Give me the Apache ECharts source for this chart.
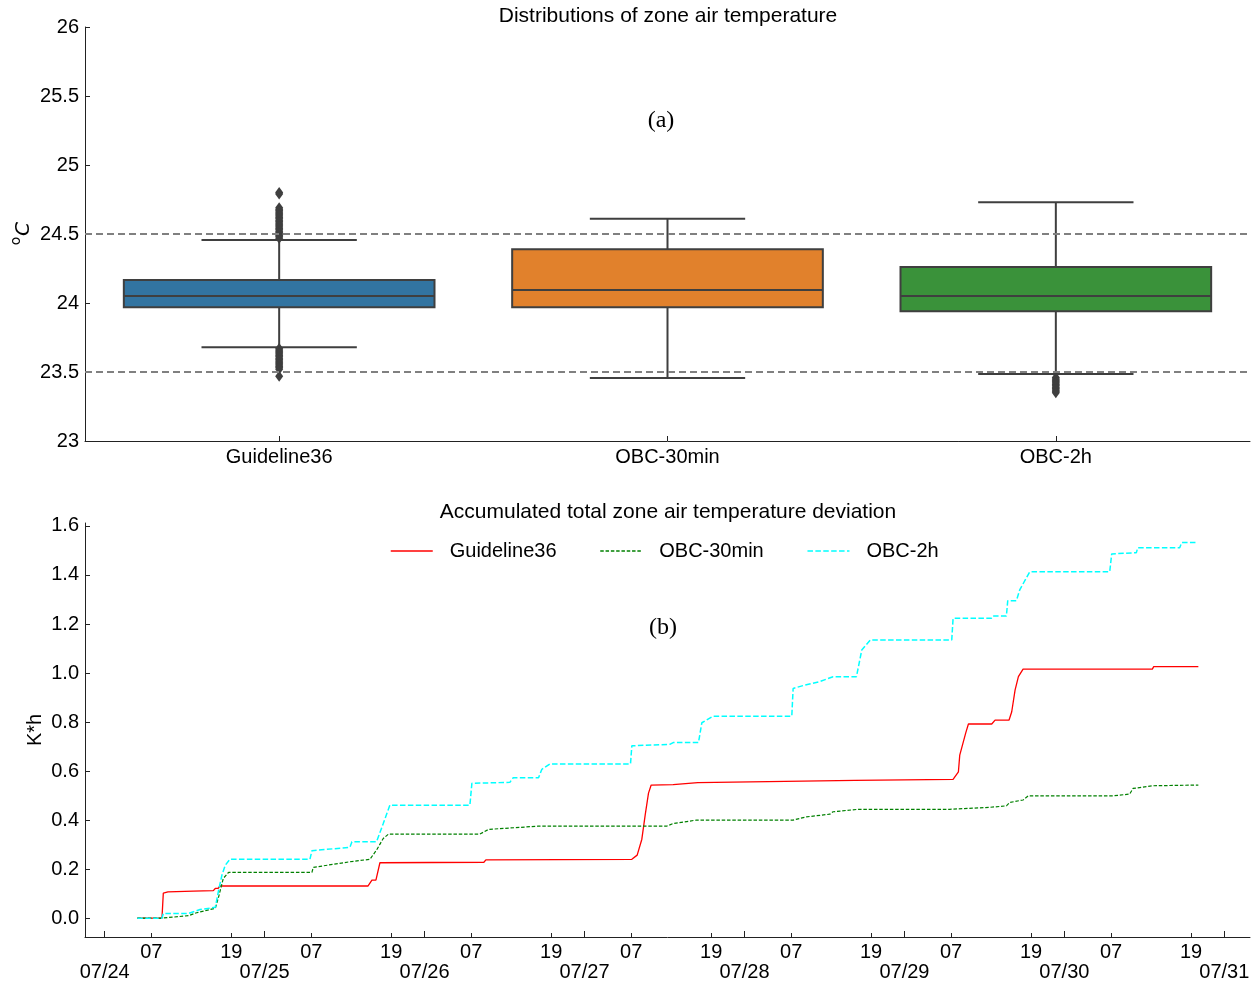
<!DOCTYPE html>
<html><head><meta charset="utf-8">
<script src="https://cdn.jsdelivr.net/npm/echarts@6/dist/echarts.min.js"></script>
<style>html,body{margin:0;padding:0;background:#fff}#c{width:1258px;height:984px}</style>
</head><body><div id="c"></div>
<script>
// ---------- (a) box plot data ----------
const boxCategories = ['Guideline36', 'OBC-30min', 'OBC-2h'];
// [lower whisker, Q1, median, Q3, upper whisker]
const boxG36 = [23.68, 23.97, 24.05, 24.167, 24.457];
const boxOBC30 = [23.456, 23.97, 24.094, 24.39, 24.61];
const boxOBC2h = [23.486, 23.94, 24.05, 24.26, 24.73];
const boxColors = ['#3274a1', '#e1812c', '#3a923a'];
const outliersG36 = [24.80, 24.79, 24.69, 24.68, 24.67, 24.66, 24.65, 24.64, 24.63, 24.62, 24.61, 24.60,
  24.59, 24.58, 24.57, 24.56, 24.55, 24.54, 24.53, 24.52, 24.51, 24.50, 24.49, 24.48, 24.47,
  23.67, 23.66, 23.65, 23.64, 23.63, 23.62, 23.61, 23.60, 23.59, 23.58, 23.57, 23.56, 23.55,
  23.54, 23.53, 23.52, 23.47];
const outliersOBC2h = [23.46, 23.45, 23.44, 23.43, 23.42, 23.41, 23.40, 23.39, 23.38, 23.37, 23.36, 23.35];
const comfortBounds = [24.5, 23.5];

// ---------- (b) accumulated deviation (x: hours since 07/24 00:00) ----------
const seriesNames = ['Guideline36', 'OBC-30min', 'OBC-2h'];
const g36Curve = [[4.9,0],[8.6,0],[8.8,0.102],[9.5,0.107],[13.3,0.11],[16.3,0.112],[16.6,0.121],[17.0,0.121],
  [17.3,0.131],[39.5,0.131],[40.1,0.155],[40.7,0.155],[41.3,0.226],[56.9,0.228],[57.2,0.238],[79.1,0.24],
  [79.9,0.257],[80.6,0.322],[81.1,0.42],[81.6,0.51],[82.0,0.543],[85.3,0.545],[85.4,0.552],[89.0,0.553],
  [89.2,0.56],[112.6,0.562],[112.7,0.566],[127.3,0.566],[128.1,0.597],[128.3,0.665],[129.2,0.756],
  [129.6,0.792],[133.1,0.792],[133.6,0.808],[135.7,0.808],[136.1,0.842],[136.6,0.93],[137.1,0.985],
  [137.8,1.016],[157.2,1.016],[157.4,1.026],[164.1,1.026]];
const obc30Curve = [[4.9,0],[8.6,0],[12.6,0.01],[13.8,0.022],[16.6,0.04],[17.1,0.087],[17.8,0.162],[18.6,0.187],
  [31.1,0.187],[31.3,0.207],[36.8,0.23],[39.8,0.24],[40.8,0.278],[41.8,0.325],[42.6,0.343],[56.3,0.343],
  [57.6,0.362],[65.0,0.375],[84.3,0.375],[85.3,0.386],[88.8,0.40],[103.3,0.40],[105.3,0.413],[108.8,0.424],
  [109.3,0.434],[113.1,0.444],[126.8,0.444],[132.8,0.452],[135.3,0.458],[135.8,0.472],[137.8,0.482],
  [138.6,0.499],[151.3,0.499],[153.8,0.506],[154.3,0.529],[157.3,0.54],[164.1,0.543]];
const obc2hCurve = [[4.9,0],[8.6,0],[8.8,0.019],[12.6,0.019],[12.8,0.026],[14.3,0.035],[16.6,0.044],[17.1,0.114],
  [17.6,0.176],[18.1,0.216],[18.8,0.24],[30.8,0.24],[31.1,0.275],[36.8,0.289],[37.1,0.312],[40.8,0.312],
  [41.8,0.386],[42.8,0.461],[54.8,0.461],[55.1,0.55],[60.8,0.554],[61.3,0.573],[65.1,0.573],[65.6,0.607],
  [66.8,0.629],[78.9,0.629],[79.1,0.703],[84.8,0.709],[85.3,0.716],[89.1,0.716],[89.6,0.797],[91.3,0.824],
  [103.1,0.824],[103.3,0.937],[105.1,0.951],[107.3,0.965],[109.3,0.985],[112.8,0.985],[113.6,1.094],
  [114.9,1.135],[127.1,1.135],[127.3,1.223],[133.1,1.223],[133.4,1.233],[135.3,1.233],[135.5,1.295],
  [136.8,1.295],[137.3,1.339],[138.8,1.413],[150.8,1.413],[151.1,1.486],[154.8,1.491],[155.0,1.511],
  [161.3,1.511],[161.6,1.532],[164.0,1.532]];
const lineColors = ['#ff0000', '#008000', '#00ffff'];
const dayLabels = ['07/24', '07/25', '07/26', '07/27', '07/28', '07/29', '07/30', '07/31'];
const hourLabels = ['07', '19'];
const hourOfLabel = [7, 19];
const devTicks = [0, 0.2, 0.4, 0.6, 0.8, 1.0, 1.2, 1.4, 1.6];

// ---------- build ----------
const FONT = '"Liberation Sans", Arial, sans-serif';
const dayTickHours = dayLabels.map((d, i) => i * 24);
const hourTickHours = [];
const hourTickText = {};
for (let d = 0; d < dayLabels.length - 1; d++) {
  hourOfLabel.forEach((h, k) => { hourTickHours.push(d * 24 + h); hourTickText[d * 24 + h] = hourLabels[k]; });
}
const boxData = [boxG36, boxOBC30, boxOBC2h].map((b, i) => [i].concat(b));
const outlierData = outliersG36.map(v => [0, v]).concat(outliersOBC2h.map(v => [2, v]));

const chart = echarts.init(document.getElementById('c'), null, { renderer: 'canvas' });
const axisLineStyle = { color: '#222', width: 1 };
const labelStyle = { color: '#000', fontSize: 20, fontFamily: FONT };
const X_MIN = -2.95, X_MAX = 171.85;

chart.setOption({
  animation: false,
  backgroundColor: '#fff',
  textStyle: { fontFamily: FONT },
  grid: [
    { left: 85, right: 8, top: 27, height: 414, outerBoundsMode: 'none', containLabel: false },
    { left: 85, right: 8, top: 523, height: 414, outerBoundsMode: 'none', containLabel: false }
  ],
  xAxis: [
    { type: 'category', gridIndex: 0, data: boxCategories, boundaryGap: true, position: 'bottom',
      axisLine: { show: true, onZero: false, lineStyle: axisLineStyle },
      axisTick: { show: true, alignWithLabel: true, inside: true, length: 5, lineStyle: axisLineStyle },
      axisLabel: Object.assign({ margin: 6 }, labelStyle), splitLine: { show: false } },
    // day axis (major ticks + date labels on second row)
    { type: 'value', gridIndex: 1, min: X_MIN, max: X_MAX, position: 'bottom', offset: 0,
      axisLine: { show: true, onZero: false, lineStyle: axisLineStyle },
      axisTick: { show: true, inside: true, length: 6, customValues: dayTickHours, lineStyle: axisLineStyle },
      axisLabel: Object.assign({ margin: 25, customValues: dayTickHours, verticalAlign: 'top',
        showMinLabel: true, showMaxLabel: true, hideOverlap: false,
        formatter: v => dayLabels[Math.round(v / 24)] }, labelStyle),
      splitLine: { show: false } },
    // hour axis (minor ticks + 07/19 labels)
    { type: 'value', gridIndex: 1, min: X_MIN, max: X_MAX, position: 'bottom', offset: 0,
      axisLine: { show: false, onZero: false },
      axisTick: { show: true, inside: true, length: 4, customValues: hourTickHours, lineStyle: axisLineStyle },
      axisLabel: Object.assign({ margin: 5, customValues: hourTickHours, verticalAlign: 'top',
        showMinLabel: true, showMaxLabel: true, hideOverlap: false,
        formatter: v => hourTickText[Math.round(v)] }, labelStyle),
      splitLine: { show: false } }
  ],
  yAxis: [
    { type: 'value', gridIndex: 0, min: 23, max: 26, interval: 0.5, position: 'left',
      axisLine: { show: true, onZero: false, lineStyle: axisLineStyle },
      axisTick: { show: true, inside: true, length: 5, lineStyle: axisLineStyle },
      axisLabel: Object.assign({ margin: 6 }, labelStyle), splitLine: { show: false } },
    { type: 'value', gridIndex: 1, min: -0.077, max: 1.612, position: 'left',
      axisLine: { show: true, onZero: false, lineStyle: axisLineStyle },
      axisTick: { show: true, inside: true, length: 5, customValues: devTicks, lineStyle: axisLineStyle },
      axisLabel: Object.assign({ margin: 6, customValues: devTicks, formatter: v => v.toFixed(1) }, labelStyle),
      splitLine: { show: false } }
  ],
  legend: {
    data: seriesNames, left: 390, top: 541, padding: 0, itemWidth: 42, itemHeight: 16, itemGap: 43,
    textStyle: { fontSize: 20, color: '#000', fontFamily: FONT, padding: [0, 0, 0, 12] },
    itemStyle: { color: 'rgba(0,0,0,0)', borderWidth: 0, opacity: 0 },
    lineStyle: { width: 1.5 }
  },
  graphic: [
    { type: 'text', x: 668, y: 16, style: { text: 'Distributions of zone air temperature', fontSize: 21, fontFamily: FONT, fill: '#000', align: 'center', verticalAlign: 'middle' } },
    { type: 'text', x: 661, y: 121, style: { text: '(a)', fontSize: 24, fontFamily: '"Liberation Serif", "Times New Roman", serif', fill: '#000', align: 'center', verticalAlign: 'middle' } },
    { type: 'text', x: 668, y: 512, style: { text: 'Accumulated total zone air temperature deviation', fontSize: 21, fontFamily: FONT, fill: '#000', align: 'center', verticalAlign: 'middle' } },
    { type: 'text', x: 663, y: 628, style: { text: '(b)', fontSize: 24, fontFamily: '"Liberation Serif", "Times New Roman", serif', fill: '#000', align: 'center', verticalAlign: 'middle' } },
    { type: 'text', x: 24, y: 229, rotation: Math.PI / 2, style: { text: 'C', fontSize: 20, fontStyle: 'italic', fontFamily: '"DejaVu Sans", sans-serif', fill: '#000', align: 'center', verticalAlign: 'middle' } },
    { type: 'text', x: 16, y: 241, rotation: Math.PI / 2, style: { text: 'o', fontSize: 14, fontFamily: '"DejaVu Sans", sans-serif', fill: '#000', align: 'center', verticalAlign: 'middle' } },
    { type: 'text', x: 35, y: 730, rotation: Math.PI / 2, style: { text: 'K*h', fontSize: 20, fontFamily: FONT, fill: '#000', align: 'center', verticalAlign: 'middle' } }
  ],
  series: [
    {
      type: 'custom', xAxisIndex: 0, yAxisIndex: 0, z: 2,
      data: boxData,
      encode: { x: 0, y: [1, 2, 3, 4, 5] },
      renderItem: (params, api) => {
        const i = api.value(0);
        const lw = api.coord([i, api.value(1)]);
        const q1 = api.coord([i, api.value(2)]);
        const md = api.coord([i, api.value(3)]);
        const q3 = api.coord([i, api.value(4)]);
        const uw = api.coord([i, api.value(5)]);
        const cx = md[0];
        const band = api.size([1, 0])[0];
        const bw = band * 0.8, cw = bw / 2;
        const edge = { stroke: '#3f3f3f', lineWidth: 2 };
        return { type: 'group', children: [
          { type: 'line', shape: { x1: cx, y1: lw[1], x2: cx, y2: q1[1] }, style: edge },
          { type: 'line', shape: { x1: cx, y1: q3[1], x2: cx, y2: uw[1] }, style: edge },
          { type: 'line', shape: { x1: cx - cw / 2, y1: lw[1], x2: cx + cw / 2, y2: lw[1] }, style: edge },
          { type: 'line', shape: { x1: cx - cw / 2, y1: uw[1], x2: cx + cw / 2, y2: uw[1] }, style: edge },
          { type: 'rect', shape: { x: cx - bw / 2, y: q3[1], width: bw, height: q1[1] - q3[1] },
            style: { fill: boxColors[params.dataIndex], stroke: '#3f3f3f', lineWidth: 2 } },
          { type: 'line', shape: { x1: cx - bw / 2, y1: md[1], x2: cx + bw / 2, y2: md[1] }, style: edge }
        ] };
      }
    },
    {
      type: 'scatter', xAxisIndex: 0, yAxisIndex: 0, z: 3, silent: true,
      data: outlierData, symbol: 'diamond', symbolSize: [8, 11],
      itemStyle: { color: '#3f3f3f', opacity: 1 },
      markLine: {
        silent: true, symbol: 'none', label: { show: false },
        lineStyle: { color: '#808080', width: 1.8, type: [7, 4] },
        data: comfortBounds.map(v => ({ yAxis: v })), z: 10
      }
    },
    { name: seriesNames[0], type: 'line', xAxisIndex: 1, yAxisIndex: 1, data: g36Curve, symbol: 'none',
      color: lineColors[0], lineStyle: { color: lineColors[0], width: 1.3, type: 'solid' }, z: 3 },
    { name: seriesNames[1], type: 'line', xAxisIndex: 1, yAxisIndex: 1, data: obc30Curve, symbol: 'none',
      color: lineColors[1], lineStyle: { color: lineColors[1], width: 1.2, type: [3.5, 1.8] }, z: 4 },
    { name: seriesNames[2], type: 'line', xAxisIndex: 1, yAxisIndex: 1, data: obc2hCurve, symbol: 'none',
      color: lineColors[2], lineStyle: { color: lineColors[2], width: 1.5, type: [5.5, 2.4] }, z: 5 }
  ]
});
</script>
</body></html>
